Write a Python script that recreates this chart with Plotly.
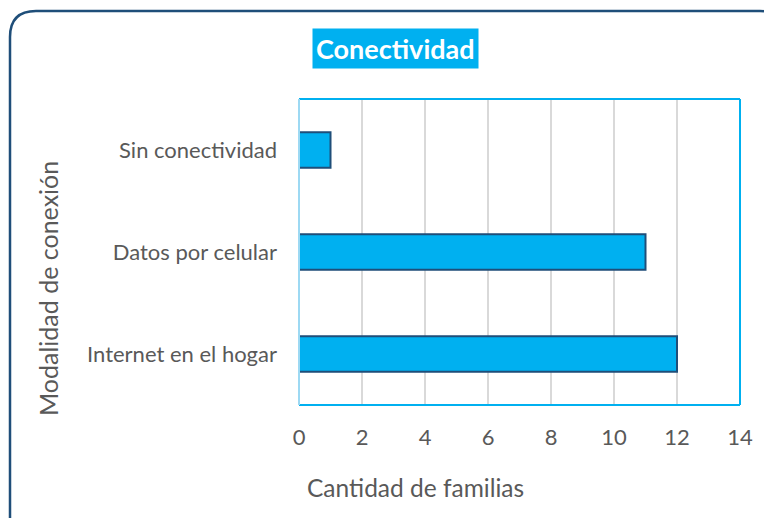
import plotly.graph_objects as go

categories = ["Internet en el hogar", "Datos por celular", "Sin conectividad"]
values = [12, 11, 1]
x_ticks = [0, 2, 4, 6, 8, 10, 12, 14]

OFF = 8  # page body margin in the browser
W, H = 772 - OFF, 518 - OFF
L, R, T, B = 299 - OFF, 740 - OFF, 99 - OFF, 405 - OFF
pw, ph = R - L, B - T


def px(x):
    return (x - OFF - L) / pw


def py(y):
    return (B - (y - OFF)) / ph


fig = go.Figure()
fig.add_trace(go.Bar(
    x=values, y=categories, orientation="h",
    marker=dict(color="#00B0F0", line=dict(color="#1F4E79", width=2)),
    width=0.35,
))

font_fam = "Lato, 'Open Sans', sans-serif"

# rounded outer border path (right and bottom edges run off the canvas)
x0, y0, x1, y1, r = 10, 11, 786, 540, 26
path = (
    f"M {px(x0)},{py(y0 + r)} "
    f"Q {px(x0)},{py(y0)} {px(x0 + r)},{py(y0)} "
    f"L {px(x1 - r)},{py(y0)} "
    f"Q {px(x1)},{py(y0)} {px(x1)},{py(y0 + r)} "
    f"L {px(x1)},{py(y1)} "
    f"L {px(x0)},{py(y1)} Z"
)

shapes = [
    dict(type="path", path=path, xref="paper", yref="paper",
         line=dict(color="#1F4E79", width=2.5), layer="below"),
    dict(type="line", xref="paper", yref="paper", x0=0, x1=1, y0=1, y1=1,
         line=dict(color="#00B0F0", width=2)),
    dict(type="line", xref="paper", yref="paper", x0=0, x1=1, y0=0, y1=0,
         line=dict(color="#00B0F0", width=2)),
    dict(type="line", xref="paper", yref="paper", x0=1, x1=1, y0=0, y1=1,
         line=dict(color="#00B0F0", width=2)),
    dict(type="line", xref="paper", yref="paper", x0=0, x1=0, y0=0, y1=1,
         line=dict(color="#9DD9F3", width=2)),
]

annotations = [
    dict(text="<b>Conectividad</b>", xref="paper", yref="paper",
         x=px(395.5), y=py(49), xanchor="center", yanchor="middle",
         showarrow=False, bgcolor="#00B0F0", borderpad=3,
         font=dict(family=font_fam, size=27, color="white")),
    dict(text="Cantidad de familias", xref="paper", yref="paper",
         x=px(415), y=py(487), xanchor="center", yanchor="middle",
         showarrow=False, font=dict(family=font_fam, size=24.5, color="#595959")),
    dict(text="Modalidad de conexión", xref="paper", yref="paper",
         x=px(48), y=py(288), xanchor="center", yanchor="middle", textangle=-90,
         showarrow=False, font=dict(family=font_fam, size=25, color="#595959")),
]

fig.update_layout(
    width=W, height=H,
    margin=dict(l=L, r=W - R, t=T, b=H - B),
    paper_bgcolor="white", plot_bgcolor="white",
    showlegend=False,
    shapes=shapes, annotations=annotations,
    font=dict(family=font_fam, color="#595959"),
    xaxis=dict(range=[0, 14], tickvals=x_ticks, showgrid=True,
               gridcolor="#D9D9D9", gridwidth=1.5, zeroline=False,
               tickfont=dict(size=22, color="#595959"),
               ticklabelstandoff=17, showline=False, fixedrange=True),
    yaxis=dict(categoryorder="array", categoryarray=categories,
               tickfont=dict(size=22, color="#595959"),
               ticklabelstandoff=21, showgrid=False, zeroline=False,
               fixedrange=True),
)

fig.write_html("out.html")
